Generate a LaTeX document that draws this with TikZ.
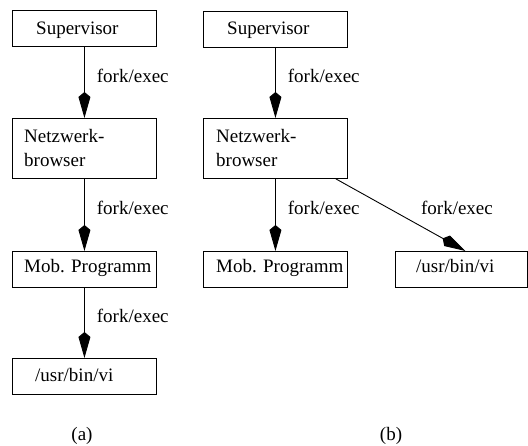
\documentclass[tikz,border=0pt]{standalone}
\usepackage{fontspec}
\setmainfont{Liberation Serif}
\usetikzlibrary{arrows.meta,calc}
\newcommand{\figfont}{\fontsize{19}{24.5}\selectfont}
\begin{document}
\begin{tikzpicture}[x=1pt,y=-1pt,
  every node/.style={font=\figfont},
  box/.style={draw, line width=0.9pt, minimum width=144pt, minimum height=36pt,
              inner sep=0pt, anchor=north west},
  tall/.style={minimum height=60pt},
  txt/.style={anchor=base west, inner sep=0pt, align=left},
  link/.style={line width=0.9pt, -{Kite[length=26pt,width=12pt,inset=5pt]}},
  lab/.style={midway, anchor=base west, inner sep=0pt, xshift=12pt}]
\useasboundingbox (0,0) rectangle (528,446);

% (a): linear chain of processes
\node[box]      (a1) at (12,10)  {};
\node[box,tall] (a2) at (12,118) {};
\node[box]      (a3) at (12,251) {};
\node[box]      (a4) at (12,358) {};
\node[txt] (a1t) at (36,34.3)  {Supervisor};
\node[txt] (a2t) at (24,166.7) {Netzwerk-\\browser};
\node[txt] (a3t) at (24,272.3) {Mob. Programm};
\node[txt] (a4t) at (35,382)   {/usr/bin/vi};
\draw[link] (a1.south) -- node[lab] {fork/exec} (a2.north);
\draw[link] (a2.south) -- node[lab] {fork/exec} (a3.north);
\draw[link] (a3.south) -- node[lab] {fork/exec} (a4.north);
\node[anchor=base, inner sep=0pt] (capa) at (82,441) {(a)};

% (b): browser starts both children
\node[box]      (b1) at (203,11)  {};
\node[box,tall] (b2) at (203,118) {};
\node[box]      (b3) at (203,251) {};
\node[box,minimum width=132pt] (b4) at (395,251) {};
\node[txt] (b1t) at (227,34.3)  {Supervisor};
\node[txt] (b2t) at (216,166.7) {Netzwerk-\\browser};
\node[txt] (b3t) at (216,272.3) {Mob. Programm};
\node[txt] (b4t) at (416,273)   {/usr/bin/vi};
\draw[link] (b1.south) -- node[lab] {fork/exec} (b2.north);
\draw[link] (b2.south) -- node[lab] {fork/exec} (b3.north);
\draw[link] ($(b2.south east)+(-12,0)$) -- node[lab,xshift=8pt] {fork/exec} ($(b4.north)+(4,0)$);
\node[anchor=base, inner sep=0pt] (capb) at (391,441) {(b)};
\end{tikzpicture}
\end{document}
